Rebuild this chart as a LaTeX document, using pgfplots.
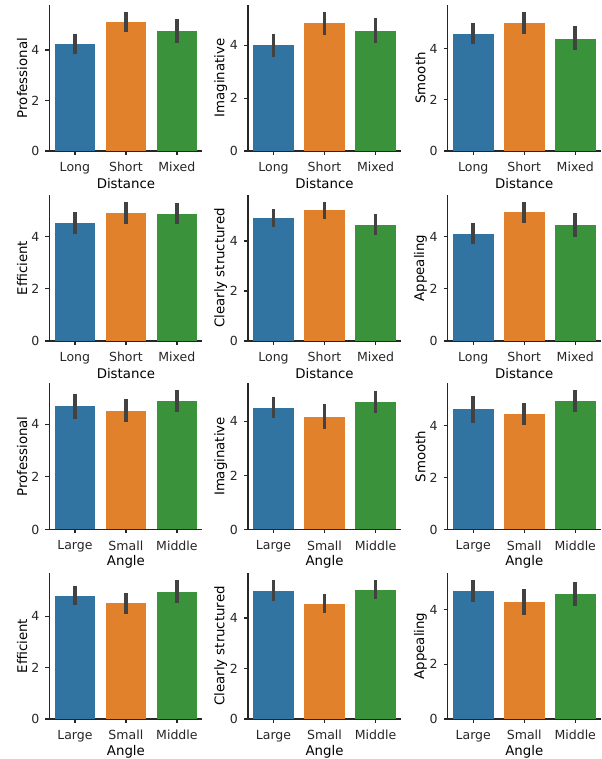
\documentclass[border=0pt]{standalone}
\usepackage{fontspec}
\setmainfont{DejaVu Sans}
\usepackage{pgfplots}
\pgfplotsset{compat=1.18}

\definecolor{cblue}{HTML}{3274A1}
\definecolor{corange}{HTML}{E1812C}
\definecolor{cgreen}{HTML}{3A923A}
\definecolor{errgray}{HTML}{424242}
\definecolor{spine}{HTML}{262626}

\newcommand{\lblfont}{\fontsize{9.4}{11}\selectfont}

\pgfplotsset{
  panel/.style={
    width=114.75pt, height=109.5pt, scale only axis,
    anchor=south west,
    xmin=-0.5, xmax=2.5, ymin=0,
    axis x line*=bottom, axis y line*=left,
    axis line style={spine, line width=0.9pt},
    xtick={0,1,2}, ytick={0,2,4},
    tick align=outside, major tick length=3pt,
    tick style={spine, line width=0.9pt},
    ybar, bar width=0.8,
    tick label style={font=\lblfont, color=spine},
    xticklabel style={yshift=-1.8pt},
    yticklabel style={xshift=-1pt},
    label style={font=\lblfont, color=spine},
    /pgf/number format/assume math mode=true,
    every axis x label/.style={at={([yshift=-24.5pt]axis description cs:0.5,0)}, anchor=center},
    every axis y label/.style={at={([xshift=-20.5pt]axis description cs:0,0.5)}, anchor=center, rotate=90},
    error bars/y dir=both, error bars/y explicit,
    error bars/error mark=none,
    error bars/error bar style={errgray, line width=2.7pt},
  },
  dist/.style={panel, xlabel=Distance, xticklabels={Long,Short,Mixed}},
  angle/.style={panel, xlabel=Angle, xticklabels={Large,Small,Middle}},
  b1/.style={fill=cblue, draw=none, bar shift=0pt},
  b2/.style={fill=corange, draw=none, bar shift=0pt},
  b3/.style={fill=cgreen, draw=none, bar shift=0pt},
}

\begin{document}
\begin{tikzpicture}
\useasboundingbox (0,0) rectangle (451.5pt,-569.25pt);

% ---- Distance: row 1 ----
\begin{axis}[dist, at={(37.05pt,-113.25pt)}, ylabel=Professional, ymax=5.78]
\addplot[b1] coordinates {(0,4.22) += (0,0.42) -= (0,0.39)};
\addplot[b2] coordinates {(1,5.11) += (0,0.39) -= (0,0.40)};
\addplot[b3] coordinates {(2,4.77) += (0,0.46) -= (0,0.48)};
\end{axis}
\begin{axis}[dist, at={(186pt,-113.25pt)}, ylabel=Imaginative, ymax=5.52]
\addplot[b1] coordinates {(0,4.00) += (0,0.43) -= (0,0.46)};
\addplot[b2] coordinates {(1,4.84) += (0,0.42) -= (0,0.44)};
\addplot[b3] coordinates {(2,4.55) += (0,0.46) -= (0,0.47)};
\end{axis}
\begin{axis}[dist, at={(335.8pt,-113.25pt)}, ylabel=Smooth, ymax=5.70]
\addplot[b1] coordinates {(0,4.57) += (0,0.42) -= (0,0.39)};
\addplot[b2] coordinates {(1,5.01) += (0,0.42) -= (0,0.44)};
\addplot[b3] coordinates {(2,4.39) += (0,0.50) -= (0,0.45)};
\end{axis}

% ---- Distance: row 2 ----
\begin{axis}[dist, at={(37.05pt,-255.75pt)}, ylabel=Efficient, ymax=5.60]
\addplot[b1] coordinates {(0,4.52) += (0,0.42) -= (0,0.43)};
\addplot[b2] coordinates {(1,4.92) += (0,0.41) -= (0,0.43)};
\addplot[b3] coordinates {(2,4.87) += (0,0.42) -= (0,0.39)};
\end{axis}
\begin{axis}[dist, at={(186pt,-255.75pt)}, ylabel=Clearly structured, ymax=5.84]
\addplot[b1] coordinates {(0,4.94) += (0,0.34) -= (0,0.36)};
\addplot[b2] coordinates {(1,5.23) += (0,0.33) -= (0,0.33)};
\addplot[b3] coordinates {(2,4.65) += (0,0.45) -= (0,0.41)};
\end{axis}
\begin{axis}[dist, at={(335.8pt,-255.75pt)}, ylabel=Appealing, ymax=5.60]
\addplot[b1] coordinates {(0,4.11) += (0,0.41) -= (0,0.40)};
\addplot[b2] coordinates {(1,4.94) += (0,0.39) -= (0,0.43)};
\addplot[b3] coordinates {(2,4.44) += (0,0.48) -= (0,0.45)};
\end{axis}

% ---- Angle: row 3 ----
\begin{axis}[angle, at={(37.05pt,-397.1pt)}, ylabel=Professional, ymax=5.55]
\addplot[b1] coordinates {(0,4.69) += (0,0.47) -= (0,0.48)};
\addplot[b2] coordinates {(1,4.50) += (0,0.47) -= (0,0.41)};
\addplot[b3] coordinates {(2,4.90) += (0,0.39) -= (0,0.42)};
\end{axis}
\begin{axis}[angle, at={(186pt,-397.1pt)}, ylabel=Imaginative, ymax=5.40]
\addplot[b1] coordinates {(0,4.51) += (0,0.40) -= (0,0.39)};
\addplot[b2] coordinates {(1,4.17) += (0,0.47) -= (0,0.46)};
\addplot[b3] coordinates {(2,4.71) += (0,0.43) -= (0,0.42)};
\end{axis}
\begin{axis}[angle, at={(335.8pt,-397.1pt)}, ylabel=Smooth, ymax=5.62]
\addplot[b1] coordinates {(0,4.62) += (0,0.51) -= (0,0.53)};
\addplot[b2] coordinates {(1,4.44) += (0,0.41) -= (0,0.41)};
\addplot[b3] coordinates {(2,4.94) += (0,0.41) -= (0,0.41)};
\end{axis}

% ---- Angle: row 4 ----
\begin{axis}[angle, at={(37.05pt,-539.25pt)}, ylabel=Efficient, ymax=5.68]
\addplot[b1] coordinates {(0,4.79) += (0,0.40) -= (0,0.37)};
\addplot[b2] coordinates {(1,4.51) += (0,0.41) -= (0,0.41)};
\addplot[b3] coordinates {(2,4.96) += (0,0.45) -= (0,0.45)};
\end{axis}
\begin{axis}[angle, at={(186pt,-539.25pt)}, ylabel=Clearly structured, ymax=5.78]
\addplot[b1] coordinates {(0,5.08) += (0,0.42) -= (0,0.40)};
\addplot[b2] coordinates {(1,4.56) += (0,0.38) -= (0,0.36)};
\addplot[b3] coordinates {(2,5.11) += (0,0.39) -= (0,0.35)};
\end{axis}
\begin{axis}[angle, at={(335.8pt,-539.25pt)}, ylabel=Appealing, ymax=5.33]
\addplot[b1] coordinates {(0,4.66) += (0,0.42) -= (0,0.39)};
\addplot[b2] coordinates {(1,4.28) += (0,0.48) -= (0,0.47)};
\addplot[b3] coordinates {(2,4.58) += (0,0.43) -= (0,0.44)};
\end{axis}
\end{tikzpicture}
\end{document}
